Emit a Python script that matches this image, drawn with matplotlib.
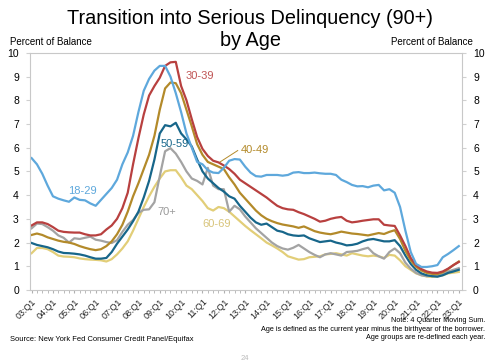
import numpy as np
import matplotlib
matplotlib.use("Agg")
import matplotlib.pyplot as plt

plt.rcParams['font.family'] = ['Liberation Sans', 'DejaVu Sans']

# quarterly, 2003:Q1 .. 2023:Q1
years = list(range(3, 24))
tick_labels = ["%02d:Q1" % y for y in years]

age_18_29 = [5.56, 5.3, 4.9, 4.4, 3.95, 3.85, 3.78, 3.72, 3.9, 3.8,
             3.78, 3.65, 3.55, 3.8, 4.05, 4.3, 4.65, 5.3, 5.8, 6.5,
             7.5, 8.4, 8.9, 9.25, 9.45, 9.45, 9.0, 8.3, 7.5, 6.6,
             6.0, 5.4, 5.3, 5.05, 4.95, 4.93, 5.15, 5.45, 5.52, 5.5,
             5.2, 4.95, 4.8, 4.78, 4.85, 4.85, 4.85, 4.82, 4.85, 4.95,
             4.97, 4.93, 4.93, 4.95, 4.92, 4.9, 4.9, 4.85, 4.65, 4.55,
             4.43, 4.37, 4.38, 4.33, 4.4, 4.43, 4.2, 4.25, 4.1, 3.5,
             2.5, 1.6, 1.1, 0.97, 0.97, 1.0, 1.05, 1.38, 1.52, 1.68,
             1.85]
age_30_39 = [2.72, 2.85, 2.85, 2.78, 2.65, 2.5, 2.45, 2.43, 2.42, 2.42,
             2.35, 2.3, 2.3, 2.35, 2.55, 2.72, 3.0, 3.45, 4.1, 5.3,
             6.4, 7.4, 8.2, 8.6, 8.95, 9.45, 9.6, 9.62, 8.6, 8.0,
             7.2, 6.45, 5.95, 5.65, 5.45, 5.38, 5.25, 5.1, 4.9, 4.65,
             4.5, 4.35, 4.2, 4.05, 3.9, 3.72, 3.55, 3.45, 3.4, 3.38,
             3.28, 3.2, 3.1, 3.0, 2.88, 2.92, 3.0, 3.05, 3.08, 2.92,
             2.85, 2.88, 2.92, 2.95, 2.98, 2.98, 2.75, 2.72, 2.7, 2.3,
             1.85, 1.35, 1.05, 0.88, 0.78, 0.73, 0.72, 0.78, 0.9, 1.05,
             1.18]
age_40_49 = [2.32, 2.38, 2.32, 2.22, 2.15, 2.08, 2.03, 2.0, 1.94, 1.85,
             1.78, 1.72, 1.68, 1.72, 1.85, 2.05, 2.35, 2.75, 3.3, 3.95,
             4.5, 5.1, 5.7, 6.5, 7.6, 8.5, 8.75, 8.72, 8.3, 7.6,
             6.9, 6.15, 5.7, 5.4, 5.3, 5.2, 5.1, 4.75, 4.45, 4.1,
             3.85, 3.6, 3.35, 3.15, 3.0, 2.9, 2.82, 2.76, 2.72, 2.68,
             2.62, 2.68, 2.58, 2.48, 2.42, 2.38, 2.35, 2.4, 2.46, 2.42,
             2.38, 2.36, 2.33, 2.3, 2.35, 2.4, 2.36, 2.45, 2.52, 2.15,
             1.65, 1.25, 0.98, 0.82, 0.72, 0.68, 0.67, 0.75, 0.88, 1.05,
             1.2]
age_50_59 = [1.98, 1.9, 1.85, 1.8, 1.72, 1.62, 1.56, 1.55, 1.53, 1.5,
             1.45, 1.38, 1.32, 1.32, 1.35, 1.6, 1.95, 2.25, 2.55, 2.9,
             3.3, 3.9, 4.6, 5.5, 6.6, 6.95, 6.9, 7.05, 6.6, 6.35,
             6.05, 5.5, 5.0, 4.7, 4.5, 4.3, 4.15, 3.95, 3.85, 3.55,
             3.3, 3.05, 2.85, 2.75, 2.8, 2.65, 2.5, 2.45, 2.35, 2.3,
             2.28, 2.3, 2.18, 2.1, 2.02, 2.05, 2.08, 2.0, 1.95, 1.88,
             1.9, 1.95, 2.05, 2.12, 2.15, 2.1, 2.05, 2.05, 2.1, 1.85,
             1.45, 1.1, 0.85, 0.7, 0.62, 0.58, 0.56, 0.62, 0.72, 0.78,
             0.85]
age_60_69 = [1.55, 1.77, 1.77, 1.72, 1.6, 1.45, 1.41, 1.4, 1.38, 1.33,
             1.3, 1.28, 1.27, 1.25, 1.2, 1.3, 1.5, 1.75, 2.05, 2.5,
             3.0, 3.5, 3.95, 4.35, 4.7, 5.0, 5.05, 5.05, 4.75, 4.4,
             4.25, 4.0, 3.75, 3.45, 3.35, 3.5, 3.45, 3.3, 3.1, 2.9,
             2.7, 2.52, 2.35, 2.18, 2.0, 1.88, 1.75, 1.6, 1.42, 1.35,
             1.28, 1.3, 1.38, 1.4, 1.42, 1.5, 1.52, 1.55, 1.5, 1.45,
             1.55, 1.5, 1.45, 1.42, 1.45, 1.42, 1.35, 1.48, 1.45, 1.25,
             1.0, 0.85, 0.7, 0.62, 0.57, 0.55, 0.58, 0.62, 0.7, 0.73,
             0.76]
age_70p = [2.6, 2.8, 2.78, 2.65, 2.5, 2.3, 2.2, 2.0, 2.18, 2.15,
           2.2, 2.25, 2.12, 2.08, 2.02, 1.98, 2.1, 2.45, 2.75, 2.95,
           3.25, 3.38, 3.4, 3.7, 4.8, 5.85, 5.98, 5.75, 5.4, 5.0,
           4.7, 4.6, 4.45, 5.15, 4.4, 4.25, 4.25, 3.3, 3.55, 3.4,
           3.1, 2.85, 2.6, 2.4, 2.2, 2.0, 1.85, 1.75, 1.7, 1.78,
           1.9, 1.75, 1.6, 1.48, 1.38, 1.5, 1.55, 1.5, 1.45, 1.6,
           1.62, 1.65, 1.72, 1.78, 1.55, 1.42, 1.32, 1.6, 1.75, 1.55,
           1.15, 0.9, 0.72, 0.62, 0.58, 0.6, 0.63, 0.7, 0.78, 0.85,
           0.92]

series = [
    ("18-29", age_18_29, "#5ea8dc"),
    ("30-39", age_30_39, "#b8403f"),
    ("40-49", age_40_49, "#b38a2a"),
    ("50-59", age_50_59, "#17668a"),
    ("60-69", age_60_69, "#e2ce78"),
    ("70+", age_70p, "#a3a3a3"),
]
# drawing order: back to front
order = ["60-69", "70+", "50-59", "40-49", "30-39", "18-29"]

fig = plt.figure(figsize=(5.0, 3.62), dpi=100)
ax = fig.add_axes([0.06, 0.199, 0.864, 0.655])

x = np.arange(len(age_18_29))
lookup = {s[0]: s for s in series}
for name in order:
    _, vals, col = lookup[name]
    ax.plot(x, vals, color=col, lw=1.6, solid_joinstyle='round')

ax.set_xlim(-0.3, 80.6)
ax.set_ylim(0, 10)
ax.set_yticks(range(0, 11))
ax.set_xticks(np.arange(0, 81, 4))
ax.set_xticklabels(tick_labels, rotation=45, ha='right', rotation_mode='anchor',
                   fontsize=6.5, color='#222222')
ax.set_xticks(np.arange(0, 81, 1), minor=True)
ax.tick_params(axis='x', which='both', length=2, color='#b0b0b0', pad=3)
ax.tick_params(axis='y', length=3, color='#d0d0d0', labelsize=7.5,
               left=True, right=True, labelleft=True, labelright=True, pad=5)
for sp in ax.spines.values():
    sp.set_color('#c8c8c8')
    sp.set_linewidth(0.8)

# series labels
ax.text(28.8, 9.03, "30-39", color="#c05555", fontsize=8, va='center')
ax.text(6.9, 4.18, "18-29", color="#5ea8dc", fontsize=8, va='center')
ax.text(24.1, 6.16, "50-59", color="#17668a", fontsize=8, va='center')
ax.text(23.5, 3.29, "70+", color="#9a9a9a", fontsize=8, va='center')
ax.text(32.0, 2.78, "60-69", color="#d8c47a", fontsize=8, va='center')
ax.text(39.1, 5.9, "40-49", color="#b38a2a", fontsize=8, va='center')
ax.plot([38.6, 35.3], [5.88, 5.4], color="#b38a2a", lw=0.7)

fig.text(0.5, 0.948, "Transition into Serious Delinquency (90+)",
         ha='center', va='center', fontsize=14.3)
fig.text(0.5, 0.888, "by Age", ha='center', va='center', fontsize=14.3)
fig.text(0.02, 0.885, "Percent of Balance", fontsize=7, ha='left', va='center')
fig.text(0.946, 0.885, "Percent of Balance", fontsize=7, ha='right', va='center')

fig.text(0.97, 0.116, "Note: 4 Quarter Moving Sum.", fontsize=5.2, ha='right', va='center')
fig.text(0.97, 0.091, "Age is defined as the current year minus the birthyear of the borrower.",
         fontsize=5.2, ha='right', va='center')
fig.text(0.97, 0.069, "Age groups are re-defined each year.", fontsize=5.2, ha='right', va='center')
fig.text(0.02, 0.063, "Source: New York Fed Consumer Credit Panel/Equifax", fontsize=5.4,
         ha='left', va='center')
fig.text(0.49, 0.01, "24", fontsize=5.5, color='#bbbbbb', ha='center', va='center')

fig.savefig("out.png", dpi=100)
